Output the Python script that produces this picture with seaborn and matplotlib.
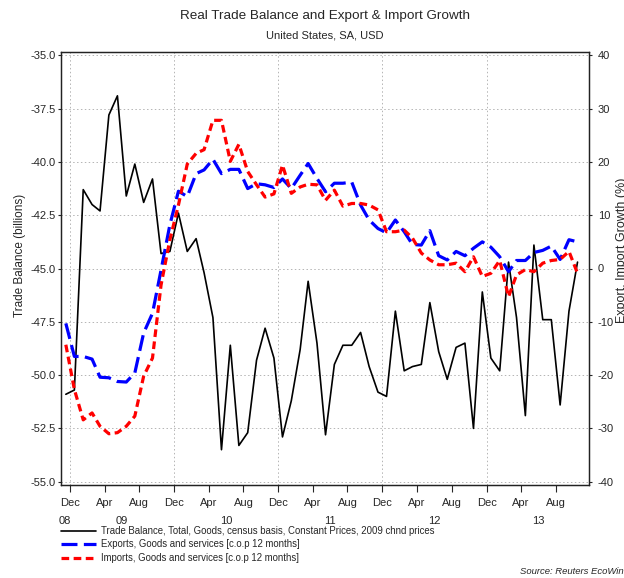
import pandas as pd
import numpy as np
import matplotlib
matplotlib.use('Agg')
import matplotlib.pyplot as plt
import seaborn as sns

# ============================================================
# DATA (monthly, Nov 2008 - Oct 2013)
# ============================================================
start_month = '2008-11-01'

trade_balance = [
    -50.9, -50.7, -41.3, -42.0, -42.3, -37.8, -36.9, -41.6, -40.1, -41.9,
    -40.8, -44.3, -44.2, -42.4, -44.2, -43.6, -45.2, -47.3, -53.5, -48.6,
    -53.3, -52.7, -49.3, -47.8, -49.2, -52.9, -51.2, -48.8, -45.6, -48.5,
    -52.8, -49.5, -48.6, -48.6, -48.0, -49.6, -50.8, -51.0, -47.0, -49.8,
    -49.6, -49.5, -46.6, -48.9, -50.2, -48.7, -48.5, -52.5, -46.1, -49.2,
    -49.8, -44.7, -47.3, -51.9, -43.9, -47.4, -47.4, -51.4, -47.0, -44.7,
]

exports_growth = [
    -10.3, -16.5, -16.5, -17.0, -20.4, -20.5, -21.2, -21.3, -19.6, -12.1,
    -8.4, -0.3, 8.2, 14.5, 13.5, 17.8, 18.5, 20.5, 17.8, 18.6,
    18.6, 15.0, 15.9, 15.7, 15.2, 16.8, 15.0, 17.5, 19.7, 16.9,
    14.4, 16.0, 16.0, 16.2, 11.9, 9.1, 7.5, 6.7, 9.1, 6.9,
    4.5, 4.4, 7.1, 2.4, 1.6, 3.2, 2.4, 3.8, 5.0, 4.0,
    2.2, -0.6, 1.5, 1.5, 3.0, 3.4, 4.2, 1.7, 5.4, 5.0,
]

imports_growth = [
    -14.3, -22.7, -28.4, -27.1, -29.6, -31.0, -30.8, -29.6, -27.7, -20.2,
    -16.8, -3.1, 5.4, 11.9, 19.6, 21.6, 22.3, 27.8, 27.8, 20.1,
    23.3, 18.2, 15.7, 13.4, 14.0, 19.4, 14.1, 15.3, 15.8, 15.7,
    12.8, 14.7, 11.7, 12.2, 12.2, 11.9, 11.0, 6.9, 6.9, 7.2,
    5.7, 2.9, 1.6, 0.7, 0.7, 1.0, -0.6, 2.2, -1.5, -0.9,
    1.5, -5.3, -1.2, -0.2, -0.6, 1.0, 1.5, 1.7, 3.2, -0.9,
]

labels = [
    'Trade Balance, Total, Goods, census basis, Constant Prices, 2009 chnd prices',
    'Exports, Goods and services [c.o.p 12 months]',
    'Imports, Goods and services [c.o.p 12 months]',
]

left_ticks = [-55.0, -52.5, -50.0, -47.5, -45.0, -42.5, -40.0, -37.5, -35.0]
right_ticks = [-40, -30, -20, -10, 0, 10, 20, 30, 40]
year_labels = ['08', '09', '10', '11', '12', '13']
year_label_dates = ['2008-11-14', '2009-06-01', '2010-06-01', '2011-06-01',
                    '2012-06-01', '2013-06-01']

# ============================================================
# BUILD FRAME
# ============================================================
dates = pd.date_range(start_month, periods=len(trade_balance), freq='MS') + pd.Timedelta(days=15)
df = pd.DataFrame({'date': dates, 'balance': trade_balance,
                   'exports': exports_growth, 'imports': imports_growth})

# ============================================================
# STYLE
# ============================================================
sns.set_style('white')
plt.rcParams['font.family'] = ['Liberation Sans', 'DejaVu Sans']

W, H = 624, 578
fig = plt.figure(figsize=(W / 100, H / 100), dpi=100)
ax = fig.add_axes([60.7 / W, 1 - 485 / H, (589.5 - 60.7) / W, (485 - 52) / H])
ax2 = ax.twinx()

# ============================================================
# PLOT
# ============================================================
sns.lineplot(data=df, x='date', y='balance', ax=ax, color='black',
             linewidth=1.2, legend=False)
sns.lineplot(data=df, x='date', y='exports', ax=ax2, color='#0000ff',
             linewidth=2.3, linestyle=(0, (5, 2)), legend=False)
sns.lineplot(data=df, x='date', y='imports', ax=ax2, color='#ff0000',
             linewidth=2.3, linestyle=(0, (2.4, 1.4)), legend=False)
for ln in ax.lines + ax2.lines:
    ln.set_dash_capstyle('butt')

# axes ranges
ax.set_xlim(pd.Timestamp('2008-10-29'), pd.Timestamp('2013-11-27'))
ax.set_ylim(-55.155, -34.845)
ax2.set_ylim(-40.62, 40.62)

# x ticks: Dec / Apr / Aug, year below
xt = pd.date_range('2008-12-01', '2013-08-01', freq='4MS')
ax.set_xticks(xt)
ax.set_xticklabels([d.strftime('%b') for d in xt])
for lbl, d in zip(year_labels, year_label_dates):
    ax.text(pd.Timestamp(d), -0.083, lbl, transform=ax.get_xaxis_transform(),
            ha='center', va='center', fontsize=8)

ax.set_yticks(left_ticks)
ax.set_yticklabels(['%.1f' % v for v in left_ticks])
ax2.set_yticks(right_ticks)
ax2.set_yticklabels([str(v) for v in right_ticks])

ax.tick_params(axis='x', length=5, width=0.8, pad=4, labelsize=8, bottom=True)
ax.tick_params(axis='y', length=2.5, width=0.8, pad=1.2, labelsize=8, left=True)
ax2.tick_params(axis='y', length=2.5, width=0.8, pad=3.5, labelsize=8, right=True)
ax.set_xlabel('')
ax.set_ylabel('')
ax2.set_ylabel('')

# grid
ax.grid(axis='y', linestyle=(0, (1.5, 2.5)), color='#b4b4b4', linewidth=0.7)
for d in pd.date_range('2008-12-01', '2012-12-01', freq='12MS'):
    ax.axvline(d, linestyle=(0, (1.5, 2.5)), color='#b4b4b4', linewidth=0.7, zorder=0)

for a in (ax, ax2):
    for s in a.spines.values():
        s.set_color('#222222')
        s.set_linewidth(0.9)

# ============================================================
# TEXTS AND LEGEND
# ============================================================
fig.text(325 / W, 1 - 16 / H, 'Real Trade Balance and Export & Import Growth',
         ha='center', va='center', fontsize=9.7)
fig.text(325 / W, 1 - 35 / H, 'United States, SA, USD',
         ha='center', va='center', fontsize=8)
fig.text(20 / W, 1 - 255 / H, 'Trade Balance (billions)', rotation=90,
         ha='center', va='center', fontsize=8.5)
fig.text(622 / W, 1 - 250 / H, 'Export, Import Growth (%)', rotation=90,
         ha='center', va='center', fontsize=9)
fig.text(520 / W, 1 - 572 / H, 'Source: Reuters EcoWin', style='italic',
         ha='left', va='center', fontsize=6.8)

handles = [ax.lines[0], ax2.lines[0], ax2.lines[1]]
fig.legend(handles, labels, loc='upper left',
           bbox_to_anchor=(60.7 / W, 1 - 526 / H), frameon=False,
           fontsize=6.9, borderpad=0, borderaxespad=0, handlelength=3.7,
           handletextpad=0.5, labelspacing=0.36)

fig.savefig('out.png', dpi=100)
